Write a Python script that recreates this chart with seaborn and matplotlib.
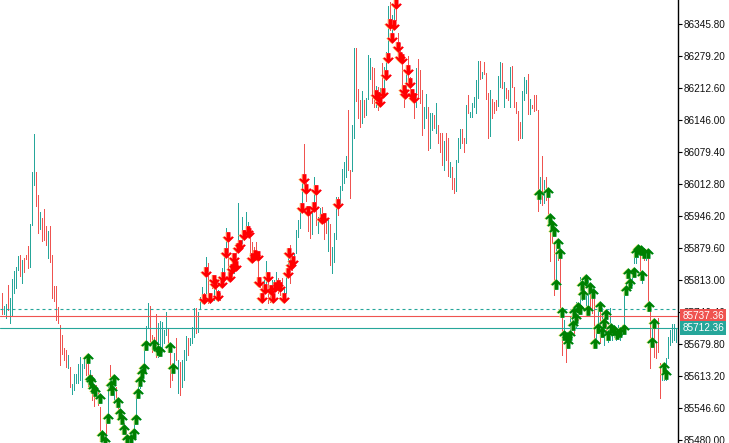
import numpy as np
import pandas as pd
import matplotlib
matplotlib.use('Agg')
import matplotlib.pyplot as plt
from matplotlib.path import Path
import seaborn as sns

# bar highs / lows, one bar every two pixels
high = [85786, 85759, 85763, 85803, 85776, 85815, 85832, 85840, 85863, 85865,
        85855, 85859, 85865, 85884, 85930, 86038, 86117, 86038, 85990, 85955,
        85942, 85961, 85926, 85915, 85926, 85865, 85801, 85801, 85757, 85720,
        85699, 85672, 85667, 85657, 85632, 85597, 85618, 85618, 85639, 85653,
        85639, 85653, 85651, 85651, 85626, 85616, 85584, 85595, 85584, 85549,
        85501, 85490, 85516, 85595, 85636, 85605, 85611, 85591, 85568, 85538,
        85528, 85516, 85501, 85486, 85495, 85501, 85516, 85578, 85593, 85611,
        85626, 85678, 85718, 85766, 85759, 85699, 85695, 85743, 85724, 85728,
        85726, 85709, 85747, 85714, 85678, 85640, 85661, 85693, 85647, 85643,
        85647, 85667, 85697, 85693, 85693, 85716, 85755, 85755, 85747, 85778,
        85799, 85786, 85861, 85849, 85786, 85824, 85824, 85813, 85792, 85786,
        85838, 85880, 85921, 85903, 85834, 85869, 85865, 85882, 85973, 85896,
        85944, 85911, 85955, 85934, 85907, 85892, 85882, 85892, 85861, 85817,
        85803, 85819, 85853, 85824, 85799, 85813, 85813, 85830, 85817, 85813,
        85817, 85799, 85834, 85880, 85886, 85861, 85869, 85917, 85938, 85973,
        86021, 86096, 86015, 85965, 85953, 85973, 86027, 86000, 85944, 85963,
        85965, 85944, 85938, 85942, 85930, 85882, 85911, 85986, 85986, 86009,
        86044, 86059, 86071, 86167, 86042, 86136, 86296, 86296, 86211, 86188,
        86207, 86188, 86192, 86282, 86275, 86257, 86254, 86217, 86215, 86213,
        86265, 86257, 86288, 86383, 86392, 86365, 86400, 86400, 86327, 86306,
        86286, 86215, 86257, 86279, 86236, 86208, 86194, 86254, 86273, 86250,
        86208, 86173, 86200, 86173, 86161, 86161, 86157, 86182, 86136, 86119,
        86119, 86102, 86119, 86109, 86059, 86048, 86025, 86063, 86109, 86127,
        86127, 86109, 86178, 86198, 86163, 86182, 86194, 86229, 86269, 86269,
        86246, 86267, 86244, 86202, 86208, 86190, 86184, 86188, 86238, 86267,
        86265, 86225, 86213, 86208, 86257, 86259, 86215, 86184, 86165, 86142,
        86207, 86236, 86229, 86242, 86190, 86177, 86198, 86198, 86167, 86027,
        86071, 86021, 86027, 85994, 85938, 85934, 85890, 85882, 85890, 85869,
        85751, 85730, 85695, 85703, 85736, 85751, 85751, 85768, 85757, 85819,
        85807, 85819, 85786, 85813, 85799, 85792, 85786, 85716, 85766, 85757,
        85755, 85724, 85745, 85709, 85755, 85720, 85720, 85709, 85720, 85714,
        85720, 85797, 85807, 85824, 85813, 85828, 85875, 85882, 85882, 85865,
        85828, 85875, 85869, 85861, 85757, 85730, 85730, 85682, 85734, 85640,
        85636, 85640, 85651, 85695, 85709, 85722, 85722, 85714]

low = [85742, 85742, 85734, 85751, 85724, 85740, 85786, 85796, 85834, 85822,
       85807, 85830, 85857, 85838, 85840, 85928, 86011, 85967, 85911, 85919,
       85894, 85896, 85886, 85859, 85851, 85776, 85770, 85730, 85724, 85636,
       85659, 85647, 85632, 85630, 85591, 85576, 85584, 85599, 85599, 85605,
       85591, 85630, 85616, 85593, 85589, 85563, 85551, 85574, 85553, 85480,
       85470, 85470, 85470, 85516, 85578, 85574, 85557, 85563, 85536, 85522,
       85507, 85501, 85480, 85470, 85470, 85480, 85495, 85516, 85578, 85589,
       85609, 85640, 85678, 85716, 85682, 85663, 85682, 85653, 85653, 85667,
       85663, 85682, 85699, 85663, 85591, 85605, 85620, 85647, 85578, 85574,
       85591, 85605, 85647, 85657, 85678, 85682, 85695, 85703, 85705, 85753,
       85766, 85768, 85786, 85766, 85766, 85797, 85771, 85778, 85771, 85771,
       85799, 85819, 85861, 85830, 85813, 85819, 85828, 85849, 85875, 85875,
       85890, 85896, 85903, 85903, 85861, 85855, 85855, 85855, 85807, 85799,
       85771, 85786, 85792, 85766, 85768, 85778, 85778, 85799, 85786, 85782,
       85792, 85771, 85786, 85819, 85807, 85834, 85855, 85869, 85903, 85921,
       85973, 86021, 85978, 85915, 85901, 85909, 85965, 85928, 85911, 85938,
       85932, 85899, 85911, 85874, 85845, 85828, 85851, 85899, 85949, 85973,
       86000, 86015, 86027, 86042, 85984, 86040, 86109, 86186, 86150, 86132,
       86140, 86152, 86157, 86190, 86232, 86182, 86173, 86173, 86167, 86182,
       86194, 86213, 86229, 86282, 86333, 86317, 86354, 86354, 86277, 86271,
       86219, 86173, 86202, 86223, 86192, 86188, 86150, 86173, 86194, 86182,
       86115, 86130, 86150, 86084, 86088, 86125, 86130, 86119, 86098, 86079,
       86053, 86042, 86063, 86030, 86027, 86002, 85994, 85998, 86059, 86088,
       86098, 86079, 86098, 86161, 86152, 86152, 86173, 86161, 86192, 86232,
       86234, 86242, 86190, 86109, 86113, 86150, 86161, 86167, 86175, 86215,
       86213, 86173, 86192, 86188, 86173, 86215, 86173, 86161, 86104, 86109,
       86109, 86188, 86202, 86159, 86159, 86171, 86165, 86167, 85957, 85973,
       85969, 85973, 85979, 85944, 85853, 85890, 85782, 85799, 85855, 85745,
       85657, 85688, 85643, 85682, 85695, 85709, 85703, 85716, 85730, 85751,
       85771, 85778, 85751, 85757, 85751, 85745, 85672, 85682, 85703, 85682,
       85695, 85678, 85693, 85684, 85688, 85688, 85695, 85688, 85693, 85688,
       85699, 85709, 85786, 85799, 85792, 85803, 85849, 85849, 85861, 85813,
       85807, 85855, 85855, 85751, 85630, 85678, 85653, 85651, 85663, 85568,
       85605, 85605, 85605, 85651, 85678, 85684, 85688, 85684]

# r = falling bar, t = rising bar, blocks of ten
bar_dirs = ('rttrtttttr' 'trrrtttrrt' 'rrrtrrrrrr' 'rrrtrttttt' 'ttrrtrrrrr'
            'trrtrttrrt' 'trrrtttttt' 'ttttrrrrtt' 'tttrrrtrtr' 'tttrtttrtt'
            'trtrtrtrtr' 'tttrtrtrtt' 'trttrrrrrr' 'rttrrtttrr' 'rtttrrtttt'
            'trrrrttrtt' 'rrrtrtttrt' 'tttrrttrrr' 'trtttrrtrt' 'rtttrttrrr'
            'rrtrrrrtrr' 'rttrttrtrr' 'rtrrtrrttt' 'rrtrtttttr' 'trrrtrrrtt'
            'rtrrtrrrrr' 'tttrtrrrrt' 'rtrrrrrtrr' 'rtrtttrtrt' 'trttrrrttr'
            'ttrttttttt' 'tttttttttr' 'trtrrtrrrr' 'tttttttt')

# arrows: position in bar numbers, price at the arrow's centre
green_x = [43, 44, 44.5, 45.5, 46.5, 49, 50, 51.5, 53, 54.5,
           55, 56, 58, 59, 60, 61, 62.5, 64.5, 66, 67,
           68, 69, 70, 71, 72, 76, 78, 79, 84, 85.5,
           268.5, 273, 274, 275, 276, 278, 279, 277, 280, 281,
           282.5, 284, 283, 285.5, 286, 287, 288, 289, 290, 290.5,
           292, 293, 294, 295.5, 296.5, 298, 299, 300, 301, 302,
           303, 304.5, 306, 307.5, 309, 311, 312, 313, 314, 316,
           317, 318, 319.5, 320, 321, 323, 323.5, 325, 326, 331, 332]
green_price = [85651, 85607, 85603, 85589, 85582, 85568, 85491, 85478, 85526, 85595,
               85584, 85607, 85559, 85536, 85524, 85503, 85482, 85482, 85495, 85524,
               85578, 85603, 85620, 85630, 85678, 85680, 85667, 85665, 85674, 85630,
               85992, 85996, 85942, 85928, 85915, 85890, 85869, 85805, 85747, 85699,
               85695, 85699, 85682, 85720, 85747, 85734, 85757, 85753, 85803, 85784,
               85815, 85751, 85799, 85786, 85682, 85713, 85759, 85705, 85724, 85743,
               85699, 85713, 85709, 85701, 85705, 85711, 85792, 85828, 85807, 85830,
               85871, 85878, 85875, 85824, 85869, 85869, 85759, 85684, 85724, 85632, 85618]

red_x = [101, 102, 104, 106, 106.5, 108, 110, 110.5, 114, 115,
         116, 116, 117, 112, 113, 118, 119, 121, 123, 123.5,
         125, 126.5, 128, 128.5, 133, 130, 131.5, 134.5, 135.5, 136.5,
         138, 139, 141, 143, 143.5, 145.5, 144.5, 150, 151, 152,
         153, 156, 157, 160, 161, 168, 187, 188, 189, 190.5,
         192, 193, 194, 195, 196, 197, 198, 199, 200, 203,
         204, 201, 201.5, 205, 206]
red_price = [85774, 85830, 85776, 85813, 85805, 85780, 85807, 85819, 85819, 85836,
             85859, 85842, 85842, 85869, 85903, 85880, 85886, 85907, 85915, 85911,
             85859, 85865, 85863, 85809, 85819, 85776, 85795, 85792, 85776, 85799,
             85803, 85799, 85776, 85828, 85869, 85853, 85845, 85963, 86023, 86002,
             85957, 85965, 86000, 85940, 85942, 85971, 86198, 86194, 86184, 86202,
             86240, 86275, 86346, 86317, 86344, 86388, 86298, 86277, 86273, 86250,
             86223, 86208, 86200, 86200, 86192]

tick_values = [86345.80, 86279.20, 86212.60, 86146.00, 86079.40, 86012.80, 85946.20,
               85879.60, 85813.00, 85746.40, 85679.80, 85613.20, 85546.60, 85480.00]
ask_price = 85737.36
bid_price = 85712.36
dash_price = 85753.0

RED = '#ef5350'
TEAL = '#26a69a'

sns.set_style('white')
plt.rcParams['font.family'] = ['Liberation Sans', 'DejaVu Sans']

bars = pd.DataFrame({'bar': np.arange(len(high)), 'high': high, 'low': low, 'dir': list(bar_dirs)})
arrows_up = pd.DataFrame({'bar': green_x, 'price': green_price})
arrows_down = pd.DataFrame({'bar': red_x, 'price': red_price})

arrow_verts = [(0, 1), (1, 0.0), (0.72, -0.22), (0.36, 0.1), (0.36, -1), (-0.36, -1),
               (-0.36, 0.1), (-0.72, -0.22), (-1, 0.0), (0, 1)]
arrow_up = Path(arrow_verts)
arrow_down = Path([(x, -y) for x, y in arrow_verts])

fig = plt.figure(figsize=(7.29, 4.43), dpi=100)
ax = fig.add_axes([0, 0, 678 / 729, 1])

for d, col in [('t', TEAL), ('r', RED)]:
    part = bars[bars['dir'] == d]
    ax.vlines(part['bar'], part['low'], part['high'], color=col, lw=0.72, antialiased=False, zorder=2)

ax.axhline(ask_price, color=RED, lw=0.8, zorder=3)
ax.axhline(bid_price, color=TEAL, lw=0.8, zorder=3)
ax.axhline(dash_price, color=TEAL, lw=0.8, dashes=(2.7, 2.7), zorder=3)

# coloured fringes either side of the arrows, half a pixel out
for frame, mark, left, right, main in [(arrows_up, arrow_up, '#f4e76a', '#55e0e0', '#008000'),
                                        (arrows_down, arrow_down, '#ffc860', '#ff80c8', '#ff0000')]:
    sns.scatterplot(x=frame['bar'] - 0.3, y=frame['price'], marker=mark, s=58, color=left,
                    linewidth=0, ax=ax, zorder=4, legend=False)
    sns.scatterplot(x=frame['bar'] + 0.3, y=frame['price'], marker=mark, s=58, color=right,
                    linewidth=0, ax=ax, zorder=4, legend=False)
    sns.scatterplot(x=frame['bar'], y=frame['price'], marker=mark, s=58, color=main,
                    linewidth=0, ax=ax, zorder=5, legend=False)

ax.set_xlim(-0.75, 338.25)
ax.set_ylim(85473.76, 86395.75)
ax.set_xticks([])
ax.set_xlabel('')
ax.set_ylabel('')
ax.yaxis.tick_right()
ax.set_yticks(tick_values)
ax.set_yticklabels([f'{v:.2f}' for v in tick_values])
ax.tick_params(axis='y', length=3, width=0.8, color='black', pad=0.8, labelsize=7.2,
               labelcolor='#111111', right=True)
for side in ['left', 'top', 'bottom']:
    ax.spines[side].set_visible(False)
ax.spines['right'].set_color('black')
ax.spines['right'].set_linewidth(1.0)

for price, col in [(ask_price, RED), (bid_price, TEAL)]:
    ax.annotate(f'{price:.2f}', xy=(1, price), xycoords=('axes fraction', 'data'),
                xytext=(3.2, 0), textcoords='offset points', va='center', ha='left',
                color='white', fontsize=7.2, zorder=6, annotation_clip=False,
                bbox=dict(boxstyle='square,pad=0.2', fc=col, ec=col, lw=0))

fig.savefig('out.png', dpi=100)
